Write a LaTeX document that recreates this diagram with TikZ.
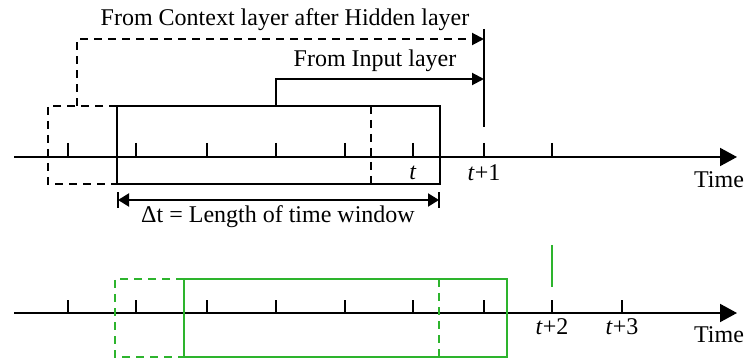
\documentclass[tikz,border=0pt]{standalone}
\usepackage{fontspec}
\setmainfont{Liberation Serif}
\usetikzlibrary{arrows.meta}
\definecolor{winGreen}{RGB}{45,180,45}
\begin{document}
\begin{tikzpicture}[x=1pt,y=-1pt,
  axisline/.style={line width=2pt,-{Triangle[length=17pt,width=18pt]}},
  tickline/.style={line width=1.8pt},
  frame/.style={line width=2pt},
  dashframe/.style={line width=2pt,dash pattern=on 8pt off 6pt},
  feed/.style={line width=2pt,-{Triangle[length=12pt,width=12pt]}},
  lbl/.style={font=\fontsize{24}{28}\selectfont,inner sep=0pt},
]
\useasboundingbox (0,0) rectangle (744,363);

% ---- upper time line ----
\coordinate (a0) at (14,157);
\coordinate (a1) at (737,157);
\draw[axisline] (a0) -- (a1);
\foreach \x in {68,136,207,276,345,413,484,552}
  \draw[tickline] (\x,143) -- (\x,157);

% current window (solid) and previous window (dashed)
\coordinate (w0) at (117,106);
\coordinate (w1) at (440,184);
\draw[frame] (w0) rectangle (w1);
\coordinate (p0) at (48,106);
\coordinate (p1) at (48,184);
\draw[dashframe] (w0) -- (p0) -- (p1) -- (w0 |- p1);
\coordinate (pr0) at (371,106);
\coordinate (pr1) at (371,184);
\draw[dashframe] (pr0) -- (pr1);

% target marker at t+1
\coordinate (m0) at (484,29);
\coordinate (m1) at (484,127);
\draw[frame] (m0) -- (m1);

% inputs to the prediction
\coordinate (c0) at (77,106);
\coordinate (c1) at (77,39);
\draw[dashframe,-{Triangle[length=12pt,width=12pt]}] (c0) -- (c1) -- (c1 -| m0);
\coordinate (i0) at (276,106);
\coordinate (i1) at (276,79);
\draw[feed] (i0) -- (i1) -- (i1 -| m0);

\node[lbl] (ctx) at (285,20) {From Context layer after Hidden layer};
\node[lbl] (inp) at (375,61) {From Input layer};

% window length
\coordinate (d0) at (118,200);
\coordinate (d1) at (439,200);
\draw[line width=2pt] ([yshift=-8pt]d0) -- ([yshift=8pt]d0);
\draw[line width=2pt] ([yshift=-8pt]d1) -- ([yshift=8pt]d1);
\draw[line width=2pt,{Triangle[length=11pt,width=13pt]}-{Triangle[length=11pt,width=13pt]}] (d0) -- (d1);
\node[lbl] (dt) at (278,217) {Δt = Length of time window};

\node[lbl] (tA) at (413,173) {\textit{t}};
\node[lbl] (tB) at (484,173) {\textit{t}+1};
\node[lbl] (timeA) at (719,180) {Time};

% ---- lower time line ----
\coordinate (b0) at (14,313);
\coordinate (b1) at (737,313);
\draw[axisline] (b0) -- (b1);
\foreach \x in {68,136,207,276,345,413,484,552,622}
  \draw[tickline] (\x,300) -- (\x,313);

\coordinate (g0) at (184,279);
\coordinate (g1) at (507,357);
\draw[frame,winGreen] (g0) rectangle (g1);
\coordinate (q0) at (115,279);
\coordinate (q1) at (115,357);
\draw[dashframe,winGreen] (g0) -- (q0) -- (q1) -- (g0 |- q1);
\coordinate (qr0) at (439,279);
\coordinate (qr1) at (439,357);
\draw[dashframe,winGreen] (qr0) -- (qr1);

\coordinate (n0) at (552,245);
\coordinate (n1) at (552,287);
\draw[frame,winGreen] (n0) -- (n1);

\node[lbl] (tC) at (552,327) {\textit{t}+2};
\node[lbl] (tD) at (622,327) {\textit{t}+3};
\node[lbl] (timeB) at (719,335) {Time};
\end{tikzpicture}
\end{document}
